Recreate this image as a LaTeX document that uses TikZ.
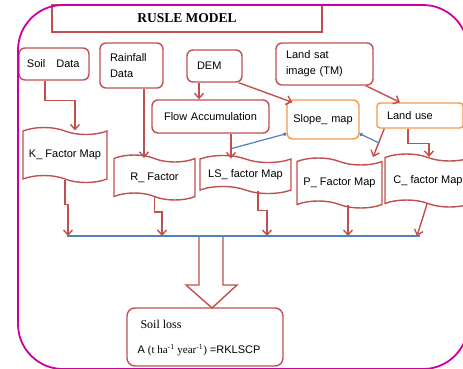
\documentclass[tikz,border=0pt]{standalone}
\usepackage{fontspec}
\setmainfont{Liberation Sans}
\newfontfamily\seriffont{Liberation Serif}
\usetikzlibrary{shapes.symbols,arrows.meta,calc}
\definecolor{boxred}{HTML}{C0504D}
\definecolor{boxorange}{HTML}{F79646}
\definecolor{linkblue}{HTML}{4F81BD}
\definecolor{framemag}{HTML}{CC00A0}

\begin{document}
\begin{tikzpicture}[x=1pt,y=-1pt,
  font=\fontsize{11}{16}\selectfont,
  rbox/.style={draw=boxred, line width=1.4pt, rounded corners=6pt,
    inner xsep=10pt, inner ysep=0pt, align=left},
  obox/.style={rbox, draw=boxorange},
  mapshape/.style={tape, draw=boxred, line width=1.4pt, tape bend height=7pt,
    tape bend top=out and in, tape bend bottom=out and in,
    inner sep=0pt, align=center},
  arr/.style={draw=boxred, line width=1.4pt, -{Straight Barb[length=5pt,width=9pt]}},
  link/.style={draw=linkblue, line width=1.2pt},
  dotlink/.style={link, {Circle[length=3.5pt]}-}
]
\useasboundingbox (0,0) rectangle (463,368);
\clip (0,0) rectangle (463,368);

% title
\node[draw=boxred, line width=1.4pt, minimum width=270pt, minimum height=27pt,
  font=\seriffont\bfseries\fontsize{13.5}{15}\selectfont] (title) at (187,18.5) {RUSLE MODEL};

% input data
\node[rbox, inner xsep=8pt, text width=54pt, minimum height=32pt] (soil) at (54,64) {Soil\ \ \ Data};
\node[rbox, text width=43pt, minimum height=45pt] (rain) at (131.5,65.5) {Rainfall\\Data};
\node[rbox, text width=35pt, minimum height=32pt] (dem) at (214.5,66) {DEM};
\node[rbox, text width=77pt, minimum height=42pt] (landsat) at (324.5,64) {Land sat\\image (TM)};

% intermediate products
\node[rbox, align=center, text width=97pt, minimum height=33pt] (flow) at (210.5,116.5) {Flow Accumulation};
\node[obox, align=center, inner xsep=3pt, text width=66pt, minimum height=39pt] (slope) at (323,119.5) {Slope\_ map};
\node[obox, rounded corners=3pt, text width=66pt, minimum height=25pt] (landuse) at (420,115.5) {Land use};

% factor maps
\node[mapshape, minimum width=84pt, minimum height=55pt] (k) at (65,155) {K\_ Factor Map};
\node[mapshape, minimum width=81pt, minimum height=45pt] (r) at (154.5,177.5) {R\_ Factor};
\node[mapshape, minimum width=91pt, minimum height=38pt] (ls) at (245.5,174.5) {LS\_ factor Map};
\node[mapshape, minimum width=85pt, minimum height=50pt] (p) at (339.5,183) {P\_ Factor Map};
\node[mapshape, minimum width=86pt, minimum height=53pt] (c) at (428,180.5) {C\_ factor Map};

% result box and its two lines of text
\node[rbox, rounded corners=8pt, minimum width=156pt, minimum height=58pt] (loss) at (205,337) {};
\node[anchor=base west, inner sep=0pt, font=\seriffont\fontsize{12}{14}\selectfont]
  (losstitle) at ($(loss.north west)+(14,21)$) {Soil loss};
\node[anchor=base west, inner sep=0pt]
  (lossformula) at ($(loss.north west)+(11,46)$)
  {A {\seriffont(t ha\textsuperscript{-1} year\textsuperscript{-1})} =RKLSCP};

% junction points
\coordinate (jls) at ($(flow.south)+(20.5,15)$);
\coordinate (ptip) at (373,157);
\coordinate (jp) at (379,143);
\coordinate (bl) at (67,236);
\coordinate (br) at (420,236);
\coordinate (ek) at (68,236);
\coordinate (er) at (162,236);
\coordinate (els) at (267,236);
\coordinate (ep) at (348,236);
\coordinate (ec) at (417,236);

% upper connectors
\draw[arr] ([xshift=-9pt]soil.south) |- ++(30,20) -- ([xshift=10pt]k.north);
\draw[arr] ([xshift=12.5pt]rain.south) -- ([xshift=12.5pt]rain.south |- r.north);
\draw[arr] ([xshift=-15.5pt]dem.south) -- ([xshift=-15.5pt]dem.south |- flow.north);
\draw[arr] ([xshift=-4pt]dem.south east) -- ([xshift=6pt,yshift=-3pt]slope.north west);
\draw[arr] ([xshift=-8pt]landsat.south east) -- ([xshift=-20pt]landuse.north);
\draw[arr] ([xshift=20.5pt]flow.south) -- ([xshift=20.5pt]flow.south |- ls.north);
\draw[arr] ([xshift=8pt]landuse.south west) -- (ptip);
\draw[arr] ([xshift=-12pt]landuse.south) -- ++(0,15) -| ([xshift=1pt]c.north);
\draw[dotlink] ([yshift=6pt]slope.south west) -- (jls);
\draw[dotlink] ([yshift=6pt]slope.south east) -- (jp);

% lower connectors
\draw[arr] (k.south) |- ++(3,25) -- (ek);
\draw[arr] (r.south) |- ++(7.5,15) -- (er);
\draw[arr] ([xshift=12.5pt]ls.south) |- ++(9,20) -- (els);
\draw[arr] ([xshift=8.5pt]p.south) -- (ep);
\draw[arr] ([xshift=-1pt]c.south) -- (ec);

% hollow arrow to the result
\draw[boxred, line width=1.4pt, fill=white, line join=miter]
  (199,236) -- (199,285) -- (186,285) -- (212,308) -- (237,285) -- (223,285) -- (223,236);
\draw[link] (bl) -- (br);

% outer frame
\draw[framemag, line width=1.8pt, rounded corners=45pt] (18,5) rectangle (468,369);
\end{tikzpicture}
\end{document}
